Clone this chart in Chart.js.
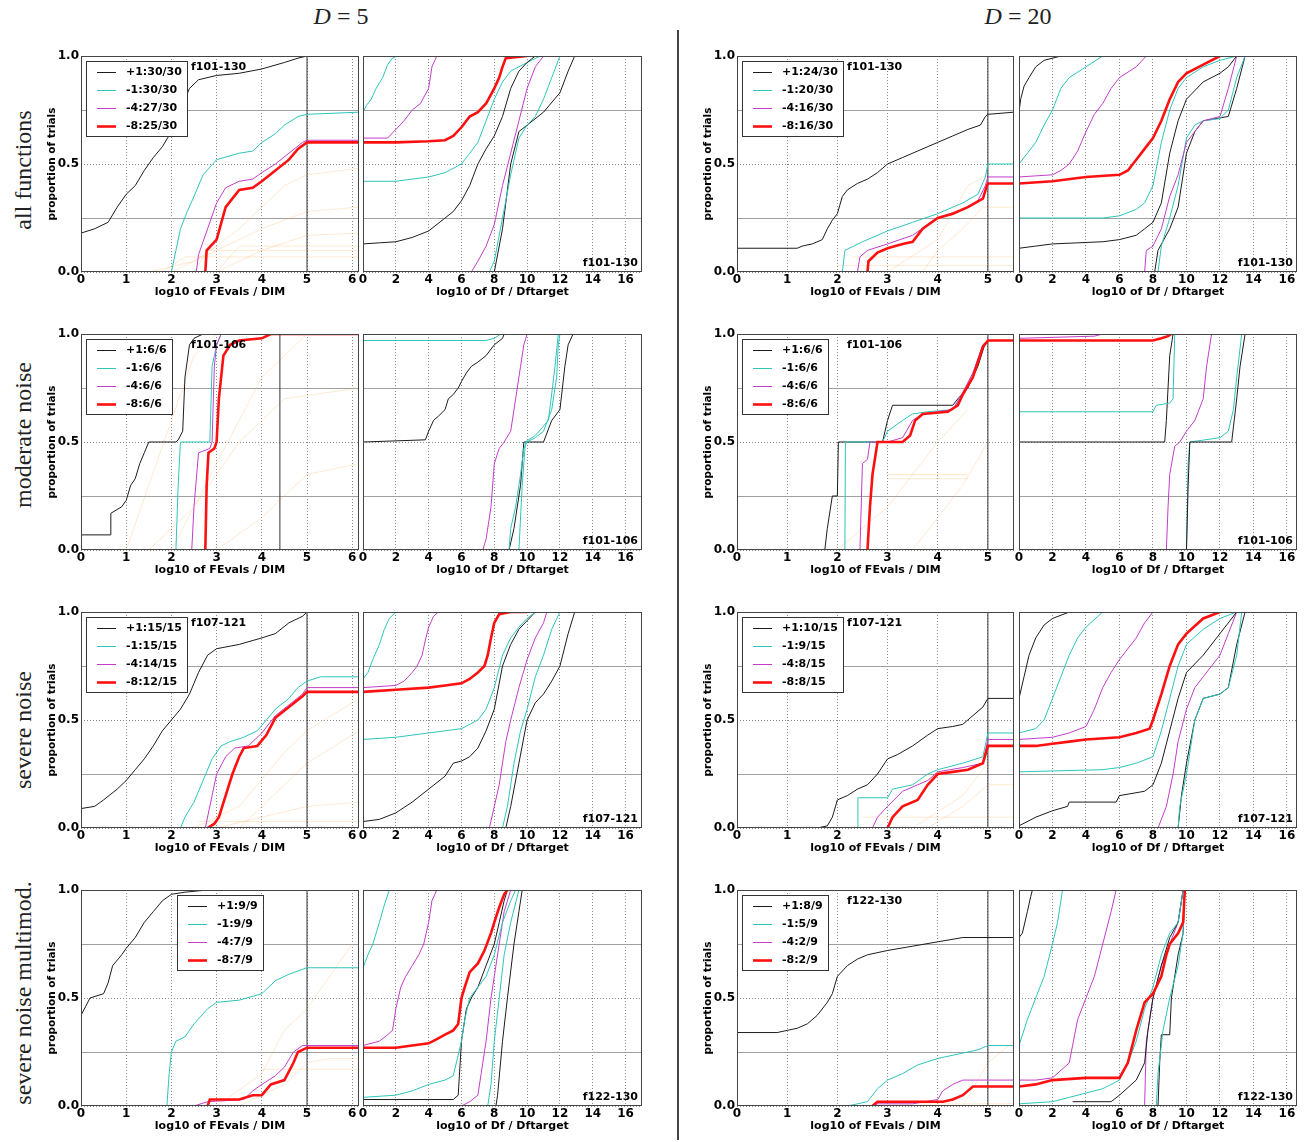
<!DOCTYPE html>
<html><head><meta charset="utf-8">
<script src="https://cdn.jsdelivr.net/npm/chart.js@4.4.1/dist/chart.umd.min.js"></script>
<style>
body{margin:0;background:#fff;width:1307px;height:1142px;position:relative;overflow:hidden;font-family:"DejaVu Sans",sans-serif}
canvas{position:absolute}
.t{position:absolute;font-family:"Liberation Serif",serif;font-size:24px;color:#222;white-space:nowrap;transform:translate(-50%,-50%)}
.r{transform:translate(-50%,-50%) rotate(-90deg)}
.div{position:absolute;left:677px;top:30px;width:2px;height:1110px;background:#444}
</style></head><body>
<div class="t" style="left:341px;top:16px"><i>D</i>&nbsp;=&nbsp;5</div>
<div class="t" style="left:1018px;top:16px"><i>D</i>&nbsp;=&nbsp;20</div>
<div class="t r" style="left:23px;top:170px">all functions</div>
<div class="t r" style="left:23px;top:435px">moderate noise</div>
<div class="t r" style="left:23px;top:730px">severe noise</div>
<div class="t r" style="left:23px;top:993px">severe noise multimod.</div>
<div class="div"></div>
<script>
// ---------- tick / axis data ----------
const tickFE5 = [0,1,2,3,4,5,6];
const tickFE20 = [0,1,2,3,4,5];
const tickDf = [0,2,4,6,8,10,12,14,16];
const tickY = [0,0.25,0.5,0.75,1];
const tickYText = ['0.0','','0.5','','1.0'];
const rangeFE5 = [0,6.15], rangeFE20 = [0,5.52], rangeDf5 = [0,17], rangeDf20 = [0,16.6];
const funcGroups = ['f101-130','f101-106','f107-121','f122-130'];
const maxEvalsD5 = [5,4.4,5,5];
const maxEvalsD20 = [5,5,5,5];

// ---------- legend labels ----------
const legAllD5 = ['+1:30/30','-1:30/30','-4:27/30','-8:25/30'];
const legModD5 = ['+1:6/6','-1:6/6','-4:6/6','-8:6/6'];
const legSevD5 = ['+1:15/15','-1:15/15','-4:14/15','-8:12/15'];
const legMmD5 = ['+1:9/9','-1:9/9','-4:7/9','-8:7/9'];
const legAllD20 = ['+1:24/30','-1:20/30','-4:16/30','-8:16/30'];
const legModD20 = ['+1:6/6','-1:6/6','-4:6/6','-8:6/6'];
const legSevD20 = ['+1:10/15','-1:9/15','-4:8/15','-8:8/15'];
const legMmD20 = ['+1:8/9','-1:5/9','-4:2/9','-8:2/9'];

// ---------- all functions, D=5 ----------
const allD5_p1 = [[0,0.18],[0.3,0.2],[0.6,0.23],[0.8,0.3],[1,0.36],[1.2,0.4],[1.4,0.47],[1.6,0.53],[1.8,0.58],[2,0.65],[2.2,0.75],[2.4,0.85],[2.6,0.89],[3,0.91],[3.5,0.92],[4,0.94],[4.5,0.97],[4.8,0.99],[5,1],[6.15,1]];
const allD5_m1 = [[2,0],[2.1,0.1],[2.2,0.2],[2.35,0.28],[2.5,0.35],[2.7,0.45],[3,0.52],[3.5,0.55],[3.8,0.56],[4,0.6],[4.3,0.64],[4.5,0.68],[4.8,0.72],[5,0.73],[6.15,0.74]];
const allD5_m4 = [[2.55,0],[2.6,0.08],[2.8,0.2],[3,0.32],[3.2,0.39],[3.5,0.42],[3.8,0.43],[4,0.46],[4.3,0.5],[4.6,0.55],[4.9,0.6],[5,0.61],[6.15,0.61]];
const allD5_m8 = [[2.75,0],[2.78,0.1],[3,0.15],[3.2,0.3],[3.5,0.38],[3.8,0.39],[4,0.42],[4.3,0.47],[4.6,0.52],[4.8,0.57],[5,0.6],[6.15,0.6]];
const allD5_o1 = [[1.5,0],[2.5,0.05],[3,0.12],[3.5,0.2],[4,0.3],[4.5,0.4],[5,0.45],[6.15,0.48]];
const allD5_o2 = [[2,0],[3,0.1],[4,0.2],[5,0.28],[6.15,0.3]];
const allD5_o3 = [[1.8,0],[2.3,0.07],[6.15,0.07]];
const allD5_o4 = [[2.5,0],[2.8,0.1],[6.15,0.1]];
const allD5_o5 = [[3,0],[3.5,0.12],[6.15,0.12]];
const allD5_o6 = [[3,0],[4,0.1],[5,0.17],[6.15,0.18]];
const allD5_dfC1 = [[0,0.74],[0.2,0.77],[0.5,0.8],[0.8,0.85],[1.2,0.9],[1.5,0.96],[1.8,0.99],[2.1,1]];
const allD5_dfM1 = [[0,0.62],[1.5,0.62],[2,0.66],[2.5,0.7],[3,0.75],[3.5,0.78],[4,0.85],[4.2,0.95],[4.5,1]];
const allD5_dfR = [[0,0.6],[2,0.6],[4,0.605],[5,0.61],[5.5,0.63],[6,0.67],[6.5,0.72],[7,0.74],[7.5,0.78],[8,0.85],[8.3,0.9],[8.5,0.95],[8.7,0.99],[10,1]];
const allD5_dfK2 = [[0,0.13],[1,0.135],[2,0.14],[3,0.16],[4,0.19],[5,0.25],[5.5,0.28],[6,0.33],[6.5,0.4],[7,0.5],[7.5,0.57],[8,0.63],[8.5,0.72],[9,0.85],[9.5,0.93],[10,0.97],[10.5,1]];
const allD5_dfC2 = [[0,0.42],[2,0.42],[4,0.44],[5,0.46],[6,0.5],[6.5,0.55],[7,0.6],[7.5,0.7],[8,0.8],[8.5,0.88],[9,0.93],[10,0.97],[10.8,1]];
const allD5_dfM2 = [[6.6,0],[7,0.05],[7.5,0.12],[8,0.22],[8.5,0.4],[9,0.55],[9.5,0.7],[10,0.85],[10.5,0.95],[11,1]];
const allD5_dfC3 = [[7.7,0],[8,0.05],[8.5,0.25],[9,0.45],[9.5,0.62],[10,0.68],[10.5,0.72],[11,0.8],[11.5,0.9],[12,1]];
const allD5_dfK3 = [[8,0],[8.5,0.2],[9,0.5],[9.5,0.65],[10,0.68],[11,0.74],[12,0.83],[12.5,0.93],[12.9,1]];

// ---------- all functions, D=20 ----------
const allD20_p1 = [[0,0.11],[1.2,0.11],[1.3,0.12],[1.5,0.13],[1.7,0.15],[1.8,0.2],[1.9,0.24],[2,0.27],[2.1,0.35],[2.2,0.38],[2.4,0.41],[2.6,0.43],[2.8,0.46],[3,0.5],[3.3,0.53],[3.6,0.56],[4,0.6],[4.3,0.63],[4.6,0.66],[4.85,0.68],[4.95,0.72],[5,0.73],[5.52,0.74]];
const allD20_m1 = [[2.1,0],[2.15,0.1],[2.5,0.14],[3,0.19],[3.5,0.23],[4,0.27],[4.5,0.32],[4.8,0.36],[4.95,0.44],[5,0.5],[5.52,0.5]];
const allD20_m4 = [[2.4,0],[2.45,0.07],[2.6,0.1],[3,0.13],[3.5,0.17],[4,0.25],[4.5,0.29],[4.8,0.33],[4.95,0.4],[5,0.44],[5.52,0.44]];
const allD20_m8 = [[2.6,0],[2.62,0.05],[2.8,0.09],[3,0.11],[3.3,0.13],[3.5,0.14],[3.7,0.2],[4,0.25],[4.3,0.27],[4.6,0.3],[4.9,0.34],[4.98,0.4],[5,0.41],[5.52,0.41]];
const allD20_o1 = [[2,0.03],[5.52,0.03]];
const allD20_o2 = [[2.3,0.07],[5.52,0.07]];
const allD20_o3 = [[3.7,0],[4,0.1],[4.5,0.2],[4.9,0.3],[5.52,0.3]];
const allD20_o4 = [[3,0],[4,0.15],[4.6,0.4],[5,0.45]];
const allD20_dfK1 = [[0,0.74],[0.1,0.8],[0.3,0.86],[0.6,0.9],[1,0.95],[1.5,0.98],[2.5,1]];
const allD20_dfC1 = [[0,0.5],[0.5,0.55],[1,0.6],[1.5,0.68],[2,0.75],[2.5,0.85],[3,0.9],[4,0.95],[5,1]];
const allD20_dfM1 = [[0,0.44],[2,0.45],[2.5,0.47],[3,0.5],[3.5,0.56],[4,0.65],[4.5,0.73],[5,0.78],[5.5,0.85],[6,0.9],[7,0.95],[7.6,1]];
const allD20_dfR = [[0,0.41],[2,0.42],[4,0.44],[6,0.45],[6.5,0.47],[7,0.52],[7.5,0.57],[8,0.62],[8.5,0.7],[9,0.8],[9.5,0.88],[10,0.92],[11,0.96],[12,1]];
const allD20_dfC2 = [[0,0.25],[5,0.25],[6,0.26],[7,0.29],[7.5,0.32],[8,0.4],[8.5,0.6],[9,0.75],[9.5,0.85],[10,0.9],[11,0.95],[12,0.98],[13,1]];
const allD20_dfK2 = [[0,0.11],[1,0.12],[2,0.13],[5,0.14],[6,0.15],[7,0.17],[7.5,0.2],[8,0.23],[8.5,0.32],[9,0.55],[9.5,0.7],[10,0.8],[11,0.88],[12,0.92],[12.5,0.95],[13,1]];
const allD20_dfM2 = [[7.5,0],[7.6,0.1],[8,0.12],[8.5,0.2],[9,0.35],[9.5,0.45],[10,0.6],[10.5,0.65],[11,0.7],[12,0.72],[12.5,0.85],[13,1]];
const allD20_dfC3 = [[8.3,0],[8.5,0.12],[9,0.25],[9.5,0.4],[10,0.62],[10.5,0.68],[11,0.7],[12,0.71],[12.5,0.75],[13,0.9],[13.5,1]];
const allD20_dfK3 = [[8.1,0],[8.3,0.1],[9,0.2],[9.5,0.3],[10,0.55],[10.5,0.65],[11,0.7],[12.5,0.72],[13,0.85],[13.5,1]];

// ---------- moderate noise, D=5 ----------
const modD5_p1 = [[0,0.07],[0.65,0.07],[0.66,0.17],[0.9,0.2],[1,0.23],[1.1,0.3],[1.2,0.33],[1.3,0.4],[1.4,0.45],[1.5,0.5],[2.1,0.5],[2.15,0.51],[2.25,0.55],[2.3,0.8],[2.4,0.95],[2.5,0.98],[2.7,1],[6.15,1]];
const modD5_m1 = [[2.1,0],[2.15,0.3],[2.2,0.5],[2.85,0.5],[2.9,0.85],[3,0.95],[3.1,1],[6.15,1]];
const modD5_m4 = [[2.45,0],[2.5,0.2],[2.6,0.45],[2.85,0.47],[2.9,0.5],[2.95,0.85],[3,0.95],[3.1,1],[6.15,1]];
const modD5_m8 = [[2.75,0],[2.78,0.3],[2.82,0.45],[2.95,0.47],[3,0.5],[3.05,0.7],[3.15,0.9],[3.3,0.95],[3.5,0.97],[4,0.98],[4.2,1],[6.15,1]];
const modD5_o1 = [[1,0],[1.5,0.3],[2,0.6],[2.5,0.9],[3,1]];
const modD5_o2 = [[2,0],[3,0.4],[4,0.8],[5,1]];
const modD5_o3 = [[1.5,0],[2.5,0.2],[3.5,0.5],[4.5,0.7],[6.15,0.75]];
const modD5_o4 = [[3,0],[4,0.15],[5,0.35],[6.15,0.4]];
const modD5_dfC1 = [[0,0.97],[7.5,0.97],[8,0.98],[8.4,1]];
const modD5_dfK2 = [[0,0.5],[3.8,0.51],[4,0.55],[4.3,0.6],[4.6,0.62],[5,0.65],[5.2,0.7],[5.5,0.72],[5.8,0.75],[6,0.78],[6.3,0.82],[6.6,0.85],[7,0.87],[7.5,0.9],[8,0.95],[8.5,0.98],[8.6,1]];
const modD5_dfM2 = [[7.3,0],[7.5,0.05],[7.8,0.2],[8,0.4],[8.3,0.47],[8.6,0.5],[9,0.55],[9.3,0.7],[9.6,0.85],[9.8,0.95],[10,1]];
const modD5_dfC2 = [[9.5,0],[9.7,0.3],[9.9,0.5],[10.5,0.53],[11.3,0.6],[11.7,0.85],[11.9,1]];
const modD5_dfC3 = [[8.9,0],[9,0.1],[9.3,0.2],[9.6,0.35],[9.8,0.47],[10,0.5],[10.5,0.52],[11,0.55],[11.5,0.65],[11.8,0.8],[11.9,0.95],[12,1]];
const modD5_dfK3 = [[8.9,0],[9.2,0.1],[9.6,0.3],[9.8,0.5],[11,0.5],[11.5,0.6],[12,0.65],[12.3,0.85],[12.5,0.95],[12.8,1]];

// ---------- moderate noise, D=20 ----------
const modD20_p1 = [[1.75,0],[1.8,0.1],[1.9,0.25],[2,0.25],[2.02,0.5],[2.9,0.5],[3,0.6],[3.1,0.67],[4.3,0.67],[4.4,0.7],[4.6,0.75],[4.8,0.85],[4.95,0.96],[5,0.97],[5.52,0.97]];
const modD20_m1 = [[2.15,0],[2.16,0.5],[2.9,0.5],[3,0.55],[3.3,0.6],[3.5,0.63],[3.8,0.64],[4.3,0.65],[4.5,0.72],[4.7,0.8],[4.9,0.95],[5,0.97],[5.52,0.97]];
const modD20_m4 = [[2.45,0],[2.5,0.4],[2.6,0.42],[2.65,0.5],[3,0.5],[3.3,0.52],[3.5,0.6],[3.7,0.63],[4.3,0.65],[4.5,0.73],[4.7,0.82],[4.9,0.95],[5,0.97],[5.52,0.97]];
const modD20_m8 = [[2.6,0],[2.65,0.2],[2.7,0.35],[2.8,0.5],[3.3,0.5],[3.45,0.53],[3.55,0.6],[3.7,0.63],[4.2,0.64],[4.4,0.67],[4.5,0.72],[4.7,0.8],[4.9,0.94],[5,0.97],[5.52,0.97]];
const modD20_o1 = [[3,0.35],[4.6,0.35]];
const modD20_o2 = [[3,0.33],[4.6,0.33]];
const modD20_o3 = [[2,0],[3,0.2],[4,0.5],[4.6,0.65]];
const modD20_o4 = [[3.5,0],[4.5,0.3],[5,0.5]];
const modD20_dfR = [[0,0.97],[8,0.97],[8.5,0.98],[8.9,0.99],[9.1,1]];
const modD20_dfM1 = [[0,0.98],[4.5,0.99],[5,1]];
const modD20_dfC1 = [[0,0.64],[8,0.64],[8.2,0.67],[9,0.68],[9.2,0.7],[9.3,1]];
const modD20_dfK2 = [[0,0.5],[8.7,0.5],[8.8,0.6],[9,0.9],[9.2,1]];
const modD20_dfM2 = [[8.8,0],[8.9,0.2],[9,0.35],[9.3,0.48],[9.6,0.5],[10,0.55],[10.5,0.6],[11,0.7],[11.2,0.85],[11.4,0.95],[11.5,1]];
const modD20_dfK3 = [[10,0],[10.1,0.3],[10.2,0.5],[12.7,0.5],[13,0.7],[13.2,0.85],[13.5,1]];
const modD20_dfC3 = [[10,0],[10.1,0.4],[10.2,0.5],[12,0.52],[12.5,0.55],[12.8,0.65],[13,0.8],[13.3,1]];

// ---------- severe noise, D=5 ----------
const sevD5_p1 = [[0,0.09],[0.3,0.1],[0.5,0.13],[0.8,0.18],[1,0.22],[1.2,0.27],[1.4,0.32],[1.6,0.38],[1.8,0.45],[2,0.5],[2.2,0.55],[2.4,0.62],[2.5,0.67],[2.6,0.72],[2.8,0.8],[3,0.83],[3.5,0.85],[4,0.88],[4.3,0.9],[4.6,0.95],[4.9,0.98],[5,1],[6.15,1]];
const sevD5_m1 = [[2.2,0],[2.3,0.05],[2.5,0.12],[2.7,0.22],[2.9,0.32],[3.1,0.38],[3.3,0.4],[3.6,0.42],[3.9,0.45],[4.1,0.5],[4.3,0.55],[4.6,0.6],[4.8,0.65],[5,0.68],[5.3,0.7],[6.15,0.7]];
const sevD5_m4 = [[2.75,0],[2.9,0.15],[3,0.25],[3.2,0.33],[3.4,0.37],[3.7,0.38],[4,0.44],[4.3,0.52],[4.6,0.57],[4.9,0.62],[5,0.65],[6.15,0.65]];
const sevD5_m8 = [[2.8,0],[2.95,0.02],[3.05,0.05],[3.2,0.15],[3.35,0.25],[3.5,0.33],[3.6,0.37],[3.9,0.38],[4.1,0.43],[4.3,0.51],[4.6,0.56],[4.9,0.61],[5,0.63],[6.15,0.63]];
const sevD5_o1 = [[2.5,0],[3.5,0.1],[4.5,0.35],[5,0.45],[6.15,0.6]];
const sevD5_o2 = [[3,0],[4,0.05],[5,0.1],[6.15,0.12]];
const sevD5_o3 = [[2.6,0.03],[6.15,0.03]];
const sevD5_o4 = [[3.5,0],[4.5,0.2],[5,0.3],[6.15,0.45]];
const sevD5_dfC1 = [[0,0.69],[0.3,0.72],[0.6,0.78],[1,0.85],[1.3,0.92],[1.6,0.97],[2,1]];
const sevD5_dfM1 = [[0,0.65],[2,0.66],[2.5,0.68],[3,0.72],[3.3,0.75],[3.6,0.8],[3.8,0.87],[4,0.93],[4.3,0.98],[4.6,1]];
const sevD5_dfR = [[0,0.63],[2,0.64],[4,0.65],[5,0.66],[6,0.67],[6.5,0.69],[7,0.72],[7.4,0.75],[7.6,0.8],[7.8,0.88],[8,0.95],[8.3,0.99],[9,1],[10,1]];
const sevD5_dfC2 = [[0,0.41],[2,0.42],[4,0.44],[6,0.46],[7,0.5],[7.5,0.55],[8,0.65],[8.5,0.8],[9,0.88],[9.5,0.93],[10,0.97],[10.5,1]];
const sevD5_dfK2 = [[0,0.03],[1,0.04],[2,0.07],[3,0.12],[4,0.18],[5,0.24],[5.5,0.3],[6,0.31],[6.5,0.33],[7,0.37],[7.5,0.45],[8,0.55],[8.5,0.75],[9,0.85],[9.5,0.92],[10,0.96],[10.5,1]];
const sevD5_dfM2 = [[7.7,0],[8,0.1],[8.3,0.2],[8.7,0.4],[9,0.5],[9.5,0.65],[10,0.78],[10.5,0.88],[11,0.95],[11.2,1]];
const sevD5_dfC3 = [[8.5,0],[8.8,0.1],[9.2,0.3],[9.6,0.45],[10,0.55],[10.5,0.7],[11,0.8],[11.5,0.92],[12,1]];
const sevD5_dfK3 = [[8.7,0],[9,0.1],[9.5,0.3],[10,0.5],[10.5,0.58],[11,0.62],[11.5,0.68],[12,0.75],[12.5,0.9],[12.9,1]];

// ---------- severe noise, D=20 ----------
const sevD20_p1 = [[1.6,0],[1.8,0.01],[1.9,0.05],[2,0.13],[2.2,0.15],[2.4,0.18],[2.6,0.2],[2.8,0.25],[3,0.32],[3.2,0.34],[3.5,0.38],[3.8,0.43],[4,0.46],[4.3,0.47],[4.5,0.48],[4.7,0.52],[4.9,0.56],[5,0.6],[5.52,0.6]];
const sevD20_m1 = [[2.4,0],[2.41,0.14],[3,0.14],[3.1,0.18],[3.5,0.2],[3.8,0.25],[4,0.27],[4.5,0.3],[4.9,0.33],[5,0.44],[5.52,0.44]];
const sevD20_m4 = [[2.7,0],[2.8,0.05],[3,0.1],[3.3,0.17],[3.6,0.2],[3.8,0.22],[4,0.26],[4.5,0.28],[4.9,0.3],[5,0.41],[5.52,0.41]];
const sevD20_m8 = [[3,0],[3.1,0.05],[3.3,0.1],[3.6,0.13],[3.8,0.2],[4,0.25],[4.3,0.26],[4.6,0.27],[4.9,0.3],[5,0.38],[5.52,0.38]];
const sevD20_o1 = [[3.5,0],[4.5,0.15],[5,0.3]];
const sevD20_o2 = [[2.5,0.05],[5.52,0.05]];
const sevD20_o3 = [[3.8,0],[4.5,0.1],[5,0.2],[5.52,0.2]];
const sevD20_dfK1 = [[0,0.6],[0.3,0.7],[0.6,0.8],[1,0.88],[1.5,0.94],[2,0.97],[3,1]];
const sevD20_dfC1 = [[0,0.44],[1,0.46],[1.5,0.5],[2,0.6],[2.5,0.7],[3,0.8],[3.5,0.88],[4,0.93],[5,1]];
const sevD20_dfM1 = [[0,0.41],[2,0.42],[3,0.44],[4,0.47],[4.5,0.55],[5,0.65],[5.5,0.72],[6,0.78],[7,0.88],[7.5,0.95],[8,1]];
const sevD20_dfR = [[0,0.38],[1,0.38],[2,0.39],[3,0.4],[4,0.41],[6,0.42],[7,0.44],[7.8,0.46],[8,0.5],[8.5,0.62],[9,0.75],[9.5,0.85],[10,0.9],[11,0.97],[12,1]];
const sevD20_dfC2 = [[0,0.26],[5,0.27],[6,0.28],[7,0.3],[8,0.33],[8.5,0.45],[9,0.6],[9.5,0.75],[10,0.85],[11,0.92],[12,0.97],[13,1]];
const sevD20_dfK2 = [[0,0.01],[1,0.05],[2,0.08],[2.9,0.1],[3,0.12],[5.8,0.12],[6,0.15],[7.5,0.17],[8,0.2],[8.5,0.3],[9,0.45],[9.5,0.6],[10,0.72],[11,0.8],[12,0.9],[13,1]];
const sevD20_dfM2 = [[8.3,0],[8.8,0.1],[9.2,0.25],[9.5,0.4],[10,0.55],[10.5,0.65],[11,0.7],[11.5,0.75],[12,0.8],[12.5,0.9],[13,1]];
const sevD20_dfC3 = [[9.5,0],[9.6,0.1],[10,0.25],[10.5,0.5],[11,0.6],[12,0.62],[12.5,0.65],[13,0.8],[13.3,1]];
const sevD20_dfK3 = [[9.5,0],[9.7,0.15],[10,0.3],[10.5,0.5],[11,0.6],[12,0.62],[12.5,0.65],[13,0.85],[13.5,1]];

// ---------- severe noise multimod., D=5 ----------
const mmD5_p1 = [[0,0.42],[0.1,0.46],[0.2,0.5],[0.5,0.52],[0.6,0.57],[0.7,0.65],[0.9,0.7],[1,0.73],[1.2,0.78],[1.4,0.85],[1.6,0.9],[1.8,0.95],[2,0.98],[2.3,0.99],[2.8,1],[6.15,1]];
const mmD5_m1 = [[1.9,0],[1.95,0.15],[2,0.25],[2.1,0.3],[2.3,0.32],[2.5,0.38],[2.8,0.45],[3,0.48],[3.5,0.49],[4,0.52],[4.3,0.58],[4.6,0.61],[5,0.64],[6.15,0.64]];
const mmD5_m4 = [[2.5,0],[2.8,0.02],[3.6,0.03],[3.8,0.07],[4,0.1],[4.3,0.14],[4.5,0.18],[4.7,0.25],[4.9,0.28],[6.15,0.28]];
const mmD5_m8 = [[2.8,0],[2.85,0.03],[3.5,0.03],[3.8,0.05],[4,0.05],[4.2,0.1],[4.5,0.12],[4.7,0.2],[4.8,0.25],[5,0.27],[6.15,0.27]];
const mmD5_o1 = [[3,0],[4,0.15],[4.5,0.35],[5,0.45],[5.5,0.6],[6,0.75]];
const mmD5_o2 = [[4,0.17],[6.15,0.17]];
const mmD5_o3 = [[3.5,0],[4.5,0.1],[5,0.2],[5.5,0.22],[6.15,0.22]];
const mmD5_dfC1 = [[0,0.64],[0.3,0.7],[0.6,0.75],[0.8,0.8],[1,0.85],[1.3,0.93],[1.6,1]];
const mmD5_dfM1 = [[0,0.28],[1,0.3],[1.5,0.33],[1.8,0.35],[2,0.45],[2.3,0.55],[2.6,0.6],[3,0.65],[3.4,0.7],[3.7,0.75],[4,0.85],[4.2,0.95],[4.5,1]];
const mmD5_dfR = [[0,0.27],[2,0.27],[3,0.28],[4,0.29],[4.5,0.31],[5,0.33],[5.5,0.35],[5.8,0.38],[6,0.5],[6.2,0.55],[6.5,0.62],[7,0.66],[7.4,0.72],[7.8,0.8],[8,0.85],[8.3,0.92],[8.6,0.98],[8.8,1]];
const mmD5_dfC2 = [[0,0.04],[2,0.05],[3,0.07],[4,0.1],[5,0.12],[5.5,0.14],[6,0.3],[6.2,0.4],[6.5,0.5],[7,0.55],[7.5,0.6],[8,0.7],[8.5,0.85],[9,0.95],[9.3,1]];
const mmD5_dfK2 = [[0,0.03],[5.5,0.03],[5.8,0.05],[6,0.3],[6.3,0.45],[6.6,0.5],[7,0.55],[7.5,0.65],[8,0.75],[8.3,0.85],[8.6,0.95],[8.8,1]];
const mmD5_dfM2 = [[6,0],[6.5,0.02],[7,0.05],[7.2,0.15],[7.5,0.3],[7.8,0.5],[8,0.6],[8.3,0.75],[8.6,0.9],[9,1]];
const mmD5_dfC3 = [[7.6,0],[7.8,0.1],[8,0.3],[8.3,0.5],[8.6,0.7],[9,0.85],[9.5,1]];
const mmD5_dfK3 = [[8.1,0],[8.2,0.05],[8.5,0.3],[8.8,0.5],[9.2,0.75],[9.5,0.9],[9.7,1]];

// ---------- severe noise multimod., D=20 ----------
const mmD20_p1 = [[0,0.34],[0.8,0.34],[1,0.35],[1.2,0.36],[1.4,0.38],[1.6,0.42],[1.8,0.48],[1.9,0.52],[2,0.6],[2.2,0.65],[2.4,0.68],[2.6,0.7],[3,0.72],[3.5,0.74],[4,0.76],[4.5,0.78],[5.52,0.78]];
const mmD20_m1 = [[2.2,0],[2.6,0.02],[2.8,0.08],[3,0.12],[3.3,0.15],[3.6,0.19],[4,0.22],[4.4,0.24],[4.8,0.26],[5,0.28],[5.52,0.28]];
const mmD20_m4 = [[2.7,0],[2.8,0.01],[3.5,0.01],[4,0.03],[4.1,0.07],[4.3,0.1],[4.5,0.12],[5.52,0.12]];
const mmD20_m8 = [[2.7,0],[2.75,0.01],[2.8,0.02],[4.1,0.02],[4.3,0.03],[4.5,0.05],[4.6,0.07],[4.7,0.09],[5.52,0.09]];
const mmD20_o1 = [[4.5,0],[5,0.2],[5.52,0.3]];
const mmD20_o2 = [[3,0.01],[5.52,0.01]];
const mmD20_dfK1 = [[0,0.78],[0.2,0.8],[0.5,0.9],[0.7,0.97],[0.8,1]];
const mmD20_dfC1 = [[0,0.28],[0.5,0.4],[1,0.5],[1.5,0.6],[2,0.75],[2.3,0.85],[2.6,1]];
const mmD20_dfM1 = [[0,0.12],[1,0.12],[2,0.13],[3,0.2],[3.5,0.4],[4,0.5],[4.5,0.6],[5,0.75],[5.5,0.9],[5.8,1]];
const mmD20_dfR = [[0,0.09],[1,0.1],[1.5,0.11],[2,0.12],[4,0.13],[6,0.13],[6.5,0.2],[7,0.35],[7.5,0.48],[8,0.52],[8.5,0.6],[8.8,0.7],[9,0.75],[9.5,0.8],[9.8,0.85],[9.9,1]];
const mmD20_dfC2 = [[0,0.01],[2,0.02],[3,0.04],[4,0.06],[5,0.08],[6,0.12],[6.5,0.2],[7,0.3],[7.5,0.45],[8,0.55],[8.5,0.7],[9,0.8],[9.5,0.85],[9.8,1]];
const mmD20_dfK2 = [[3.2,0.02],[5.5,0.02],[6,0.05],[7,0.12],[7.5,0.2],[7.7,0.35],[8,0.5],[8.5,0.65],[9,0.78],[9.5,0.85],[9.8,1]];
const mmD20_dfM2 = [[7.5,0],[7.6,0.3],[8,0.5],[8.5,0.65],[9,0.75],[9.5,0.85],[9.8,1]];
const mmD20_dfC3 = [[8.2,0],[8.3,0.15],[8.6,0.35],[9,0.5],[9.5,0.65],[9.8,0.8],[9.9,1]];
const mmD20_dfK3 = [[8.3,0],[8.4,0.2],[8.5,0.33],[9,0.33],[9.1,0.5],[9.5,0.7],[9.8,0.8],[9.9,1]];

// ---------- styling ----------
const COL = {k:'#1c1c1c', c:'#2ec5bc', m:'#c23ec8', r:'#ff1010', o:'rgba(255,170,80,0.26)', v:'#333333'};
const WID = {k:1, c:1, m:1, r:2.6, o:1, v:1};
const FONT_MAIN = {size: 11, weight: 'bold'};
const FONT_TICK = {size: 12, weight: 'bold'};
Chart.defaults.font.family = '"DejaVu Sans", sans-serif';
Chart.defaults.font.size = 11;
Chart.defaults.color = '#000';

function ds(data, key){ return {data, borderColor: COL[key], borderWidth: WID[key], pointRadius: 0, pointHoverRadius:0, tension: 0, fill: false}; }

const decor = {
  id: 'decor',
  afterDatasetsDraw(chart){
    const o = chart.options.plugins.decor || {};
    const {ctx, chartArea: a} = chart;
    ctx.save();
    ctx.font = 'bold 11px "DejaVu Sans"';
    ctx.fillStyle = '#000';
    ctx.textBaseline = 'middle';
    if (o.tagTop){ ctx.textAlign = 'left'; ctx.fillText(o.tagTop, a.left + 110, a.top + 11); }
    if (o.tagBottom){ ctx.textAlign = 'right'; ctx.fillText(o.tagBottom, a.right - 4, a.bottom - 9); }
    if (o.legend){
      ctx.textAlign = 'left';
      const tw = Math.max(...o.legend.map(s => ctx.measureText(s).width));
      const x0 = Math.round(a.left + o.lx), y0 = Math.round(a.top + o.ly);
      const w = Math.round(40 + tw + 5), h = 75;
      ctx.fillStyle = '#fff'; ctx.fillRect(x0, y0, w, h);
      ctx.strokeStyle = '#333'; ctx.lineWidth = 1; ctx.strokeRect(x0 + 0.5, y0 + 0.5, w, h);
      const keys = ['k','c','m','r'];
      o.legend.forEach((s, i) => {
        const yy = Math.round(y0 + 10.5 + i * 18.3);
        ctx.strokeStyle = COL[keys[i]]; ctx.lineWidth = WID[keys[i]];
        ctx.beginPath(); ctx.moveTo(x0 + 11, yy + 0.5); ctx.lineTo(x0 + 30, yy + 0.5); ctx.stroke();
        ctx.fillStyle = '#000'; ctx.fillText(s, x0 + 40, yy + 0.5);
      });
    }
    ctx.restore();
  },
  afterDraw(chart){
    const {ctx, chartArea: a} = chart;
    ctx.save();
    ctx.strokeStyle = '#444'; ctx.lineWidth = 1;
    ctx.strokeRect(Math.round(a.left) + 0.5, Math.round(a.top) + 0.5, Math.round(a.right - a.left) - 1, Math.round(a.bottom - a.top) - 1);
    ctx.restore();
  }
};

function isQuarter(ctx){ return ctx.tick && (ctx.tick.value === 0.25 || ctx.tick.value === 0.75); }

function makePanel(p){
  const isFE = p.kind === 'fe';
  const LW = isFE ? 44 : 10, T = 14, R = 6, H = 30, B = 2, PH = 216;
  const cv = document.createElement('canvas');
  cv.width = LW + p.w + R; cv.height = T + PH + H + B;
  cv.style.left = (p.left - LW) + 'px'; cv.style.top = (p.top - T) + 'px';
  document.body.appendChild(cv);
  new Chart(cv, {
    type: 'line',
    data: { datasets: p.sets },
    plugins: [decor],
    options: {
      responsive: false, animation: false, events: [],
      layout: { padding: { left: isFE ? 8 : 0, top: T, right: R, bottom: B } },
      plugins: { legend: { display: false }, tooltip: { enabled: false }, decor: p.decor },
      scales: {
        x: {
          type: 'linear', min: p.range[0], max: p.range[1],
          afterBuildTicks: s => { s.ticks = p.ticks.map(v => ({ value: v })); },
          afterFit: s => { s.height = H; },
          ticks: { padding: 1, maxRotation: 0, autoSkip: false, color: '#000', font: FONT_TICK, callback: v => String(v) },
          grid: { drawTicks: false, color: '#8a8a8a', lineWidth: 1 },
          border: { display: false, dash: [1, 2] },
          title: { display: true, text: isFE ? 'log10 of FEvals / DIM' : 'log10 of Df / Dftarget', color: '#000', font: FONT_MAIN, padding: { top: 0, bottom: 3 } }
        },
        y: {
          type: 'linear', min: 0, max: 1,
          afterBuildTicks: s => { s.ticks = tickY.map(v => ({ value: v })); },
          afterFit: s => { s.width = isFE ? 36 : 10; },
          ticks: { display: isFE, padding: 2, autoSkip: false, color: '#000', font: FONT_TICK, callback: (v, i) => tickYText[i] },
          grid: { drawTicks: false, lineWidth: 1, color: c => isQuarter(c) ? '#a0a0a0' : '#8a8a8a' },
          border: { display: false, dash: c => isQuarter(c) ? [] : [1, 2] },
          title: { display: isFE, text: 'proportion of trials', color: '#000', font: { size: 10.5, weight: 'bold' }, padding: { top: 1, bottom: 0 } }
        }
      }
    }
  });
}

// ---------- assemble panels ----------
const rowTop = [56, 334, 612, 890];
const geo = { d5fe: [81, 278], d5df: [363, 279], d20fe: [737, 277], d20df: [1019, 278] };

const rowsData = [
  { g: 0,
    d5: { fe: [allD5_p1, allD5_m1, allD5_m4, allD5_m8], bg: [allD5_o1, allD5_o2, allD5_o3, allD5_o4, allD5_o5, allD5_o6],
          df: [[allD5_dfR,'r'],[allD5_dfC1,'c'],[allD5_dfM1,'m'],[allD5_dfK2,'k'],[allD5_dfC2,'c'],[allD5_dfM2,'m'],[allD5_dfC3,'c'],[allD5_dfK3,'k']],
          leg: legAllD5, lx: 5 },
    d20: { fe: [allD20_p1, allD20_m1, allD20_m4, allD20_m8], bg: [allD20_o1, allD20_o2, allD20_o3, allD20_o4],
          df: [[allD20_dfR,'r'],[allD20_dfK1,'k'],[allD20_dfC1,'c'],[allD20_dfM1,'m'],[allD20_dfC2,'c'],[allD20_dfK2,'k'],[allD20_dfM2,'m'],[allD20_dfC3,'c'],[allD20_dfK3,'k']],
          leg: legAllD20, lx: 5 } },
  { g: 1,
    d5: { fe: [modD5_p1, modD5_m1, modD5_m4, modD5_m8], bg: [modD5_o1, modD5_o2, modD5_o3, modD5_o4],
          df: [[modD5_dfC1,'c'],[modD5_dfK2,'k'],[modD5_dfM2,'m'],[modD5_dfC2,'c'],[modD5_dfC3,'c'],[modD5_dfK3,'k']],
          leg: legModD5, lx: 5 },
    d20: { fe: [modD20_p1, modD20_m1, modD20_m4, modD20_m8], bg: [modD20_o1, modD20_o2, modD20_o3, modD20_o4],
          df: [[modD20_dfR,'r'],[modD20_dfM1,'m'],[modD20_dfC1,'c'],[modD20_dfK2,'k'],[modD20_dfM2,'m'],[modD20_dfK3,'k'],[modD20_dfC3,'c']],
          leg: legModD20, lx: 5 } },
  { g: 2,
    d5: { fe: [sevD5_p1, sevD5_m1, sevD5_m4, sevD5_m8], bg: [sevD5_o1, sevD5_o2, sevD5_o3, sevD5_o4],
          df: [[sevD5_dfR,'r'],[sevD5_dfC1,'c'],[sevD5_dfM1,'m'],[sevD5_dfC2,'c'],[sevD5_dfK2,'k'],[sevD5_dfM2,'m'],[sevD5_dfC3,'c'],[sevD5_dfK3,'k']],
          leg: legSevD5, lx: 5 },
    d20: { fe: [sevD20_p1, sevD20_m1, sevD20_m4, sevD20_m8], bg: [sevD20_o1, sevD20_o2, sevD20_o3],
          df: [[sevD20_dfR,'r'],[sevD20_dfK1,'k'],[sevD20_dfC1,'c'],[sevD20_dfM1,'m'],[sevD20_dfC2,'c'],[sevD20_dfK2,'k'],[sevD20_dfM2,'m'],[sevD20_dfC3,'c'],[sevD20_dfK3,'k']],
          leg: legSevD20, lx: 5 } },
  { g: 3,
    d5: { fe: [mmD5_p1, mmD5_m1, mmD5_m4, mmD5_m8], bg: [mmD5_o1, mmD5_o2, mmD5_o3],
          df: [[mmD5_dfR,'r'],[mmD5_dfC1,'c'],[mmD5_dfM1,'m'],[mmD5_dfC2,'c'],[mmD5_dfK2,'k'],[mmD5_dfM2,'m'],[mmD5_dfC3,'c'],[mmD5_dfK3,'k']],
          leg: legMmD5, lx: 96 },
    d20: { fe: [mmD20_p1, mmD20_m1, mmD20_m4, mmD20_m8], bg: [mmD20_o1, mmD20_o2],
          df: [[mmD20_dfR,'r'],[mmD20_dfK1,'k'],[mmD20_dfC1,'c'],[mmD20_dfM1,'m'],[mmD20_dfC2,'c'],[mmD20_dfK2,'k'],[mmD20_dfM2,'m'],[mmD20_dfC3,'c'],[mmD20_dfK3,'k']],
          leg: legMmD20, lx: 5 } }
];

rowsData.forEach((row, ri) => {
  [['d5', tickFE5, rangeFE5, rangeDf5, maxEvalsD5], ['d20', tickFE20, rangeFE20, rangeDf20, maxEvalsD20]].forEach(([dk, tFE, rFE, rDf, mx]) => {
    const d = row[dk];
    const me = mx[ri];
    // first dataset is drawn on top
    const feSets = [ds(d.fe[3], 'r'), ds(d.fe[2], 'm'), ds(d.fe[1], 'c'), ds(d.fe[0], 'k'), ds([[me, 0], [me, 1]], 'v')]
      .concat(d.bg.map(b => ds(b, 'o')));
    makePanel({ kind: 'fe', left: geo[dk + 'fe'][0], w: geo[dk + 'fe'][1], top: rowTop[ri], range: rFE, ticks: tFE, sets: feSets,
      decor: { tagTop: funcGroups[row.g], legend: d.leg, lx: d.lx, ly: 5 } });
    const dfSets = d.df.map(([arr, key]) => ds(arr, key));
    makePanel({ kind: 'df', left: geo[dk + 'df'][0], w: geo[dk + 'df'][1], top: rowTop[ri], range: rDf, ticks: tickDf, sets: dfSets,
      decor: { tagBottom: funcGroups[row.g] } });
  });
});
</script>
</body></html>
